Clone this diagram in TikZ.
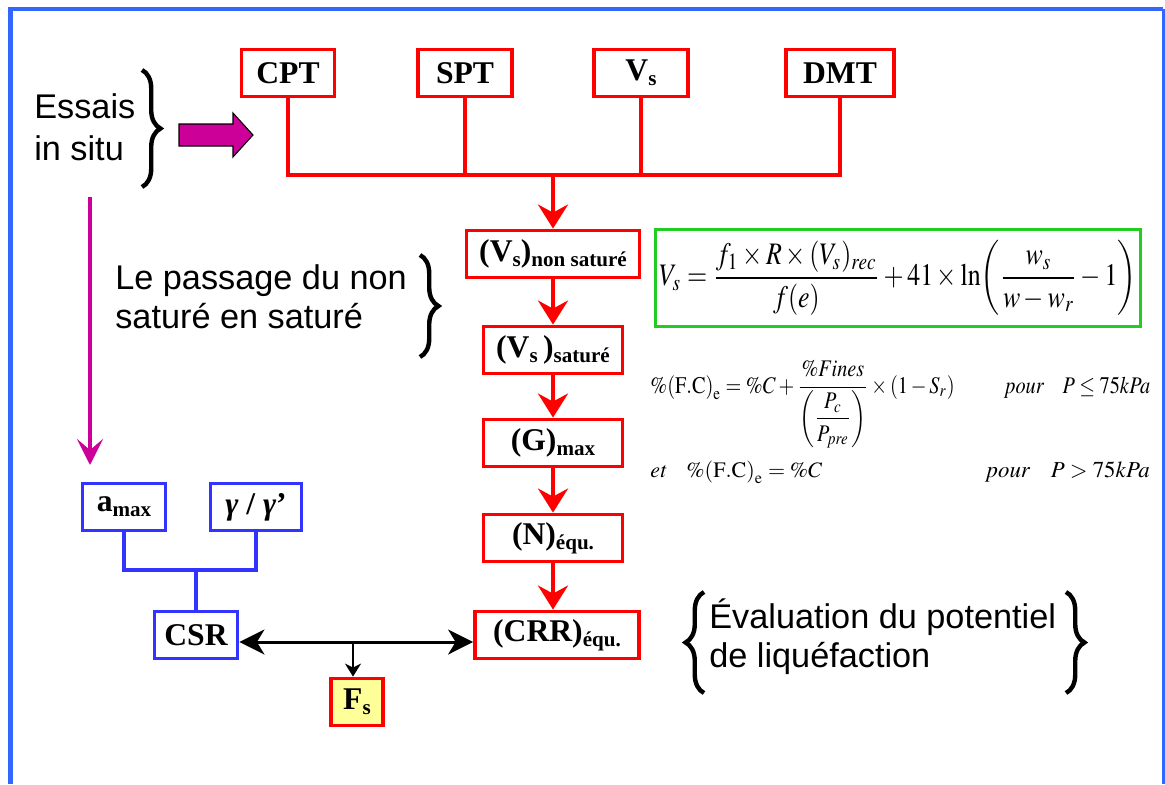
\documentclass[tikz,border=0pt]{standalone}
\usepackage{amsmath}
\usepackage{mathptmx}
\usepackage[no-math]{fontspec}
\setmainfont{Liberation Serif}
\newfontfamily\arialf{Liberation Sans}
\usetikzlibrary{arrows.meta,decorations.pathreplacing}

\definecolor{frameblue}{HTML}{3366FF}
\definecolor{boxblue}{HTML}{3333FF}
\definecolor{fgreen}{HTML}{22CC22}
\definecolor{fmagenta}{HTML}{CC0099}
\definecolor{fsyellow}{HTML}{FFFF99}

% lowered subscript inside the boxes
\newcommand{\lsub}[1]{\raisebox{-0.35ex}{\fontsize{12}{12}\selectfont #1}}

\tikzset{
  redbox/.style={draw=red, line width=2.2pt, minimum height=0.94cm, inner sep=0pt,
    font=\fontsize{18}{20}\selectfont\bfseries},
  bluebox/.style={redbox, draw=boxblue},
  redline/.style={draw=red, line width=2.2pt},
  blueline/.style={draw=boxblue, line width=2.2pt},
  redarrow/.style={redline, -{Stealth[length=0.48cm,width=0.6cm,inset=0.16cm]}},
  blackarrow/.style={line width=1.7pt, {Stealth[length=0.5cm,width=0.5cm,inset=0.15cm]}-{Stealth[length=0.5cm,width=0.5cm,inset=0.15cm]}},
  smallarrow/.style={line width=1.7pt, -{Stealth[length=0.26cm,width=0.32cm,inset=0.08cm]}},
  bracket/.style={line width=2.5pt, decorate, decoration={brace, amplitude=10.5pt}},
  sidetext/.style={font=\arialf\fontsize{19.5}{24}\selectfont, align=left, inner sep=0pt}
}

\begin{document}
\begin{tikzpicture}[x=0.02cm, y=-0.02cm]
  \useasboundingbox (0,0) rectangle (1165,784);

  % Frame
  \draw[frameblue, line width=2.8pt] (10.5,784) -- (10.5,9) -- (1163,9);
  \draw[frameblue, line width=1.2pt] (1163.5,9) -- (1163.5,784);

  % In situ tests
  \node[redbox, minimum width=1.86cm] (cpt) at (288,73) {CPT};
  \node[redbox, minimum width=1.88cm] (spt) at (465,73) {SPT};
  \node[redbox, minimum width=1.88cm] (vs) at (641,73) {V\lsub{s}};
  \node[redbox, minimum width=2.16cm] (dmt) at (840,73) {DMT};

  % Main chain
  \node[redbox, minimum width=3.46cm] (vsns) at (553,254) {(V\lsub{s})\lsub{non saturé}};
  \node[redbox, minimum width=2.78cm] (vssat) at (553,350) {(V\lsub{s}\,)\lsub{saturé}};
  \node[redbox, minimum width=2.78cm] (gmax) at (553,443) {(G)\lsub{max}};
  \node[redbox, minimum width=2.78cm] (nequ) at (553,538) {(N)\lsub{équ.}};
  \node[redbox, minimum width=3.28cm] (crr) at (557,635) {(CRR)\lsub{équ.}};

  % Seismic load side
  \node[bluebox, minimum width=1.66cm] (amax) at (124,507) {a\lsub{max}};
  \node[bluebox, minimum width=1.82cm] (gam) at (256,507) {\textit{γ} / \textit{γ}'};
  \node[bluebox, minimum width=1.66cm] (csr) at (196,635) {CSR};
  \node[redbox, fill=fsyellow, minimum width=1.04cm] (fs) at (357,702) {F\lsub{s}};

  % Connectors
  \coordinate (bus) at (553,175);
  \draw[redline] (cpt.south) |- (bus) -| (dmt.south);
  \draw[redline] (spt.south) -- (spt.south |- bus);
  \draw[redline] (vs.south) -- (vs.south |- bus);
  \draw[redarrow] (bus) -- (vsns.north);
  \draw[redarrow] (vsns) -- (vssat);
  \draw[redarrow] (vssat) -- (gmax);
  \draw[redarrow] (gmax) -- (nequ);
  \draw[redarrow] (nequ.south) -- (nequ.south |- crr.north);

  \coordinate (bbus) at (196,570);
  \draw[blueline] (amax.south) |- (bbus);
  \draw[blueline] (gam.south) |- (bbus);
  \draw[blueline] (bbus) -- (csr.north);

  \coordinate (mid) at (353,642);
  \draw[blackarrow] (csr.east |- mid) -- (crr.west |- mid);
  \draw[smallarrow] (mid) -- (fs.north -| mid);

  \coordinate (mtop) at (90,197);
  \coordinate (mbot) at (90,465);
  \draw[fmagenta, line width=2.6pt, -{Stealth[length=0.52cm,width=0.52cm,inset=0.22cm]}] (mtop) -- (mbot);

  % Texts and braces
  \node[sidetext, anchor=west] (essais) at (34,127) {Essais\\in situ};
  \draw[bracket] (142,70) -- (142,187);
  \draw[fmagenta, fill=fmagenta, draw=black, line width=0.6pt]
    (179,124) -- (233,124) -- (233,113) -- (253,135) -- (233,157) -- (233,146) -- (179,146) -- cycle;

  \node[sidetext, anchor=west, font=\arialf\fontsize{19.5}{22}\selectfont] (passage) at (115,297) {Le passage du non\\saturé en saturé};
  \draw[bracket] (420,255) -- (420,357);

  \node[sidetext, anchor=west, font=\arialf\fontsize{19.5}{22}\selectfont] (evaluation) at (709,637) {Évaluation du potentiel\\de liquéfaction};
  \draw[bracket] (704,693) -- (704,592);
  \draw[bracket] (1066,592) -- (1066,693);

  % Formulas
  \node[draw=fgreen, line width=1.7pt, minimum width=9.7cm, minimum height=1.94cm, inner sep=0pt] (vsform) at (898,278)
    {\resizebox*{9.55cm}{1.5cm}{$V_s=\dfrac{f_1\times R\times (V_s)_{rec}}{f(e)}+41\times\ln\!\left(\dfrac{w_s}{w-w_r}-1\right)$}};
  \node[anchor=base west, inner sep=0pt] (fcform) at (650,393)
    {\resizebox*{10cm}{1.75cm}{$\%\mathrm{(F.C)}_{\mathrm{e}}=\%C+\dfrac{\%Fines}{\left(\dfrac{P_c}{P_{pre}}\right)}\times(1-S_r)\hspace{2.5em}\mathit{pour}\hspace{0.9em}P\leq 75kPa$}};
  \node[anchor=base west, inner sep=0pt] (fcleft) at (650,477)
    {\resizebox{3.44cm}{!}{$\mathit{et}\hspace{0.9em}\%\mathrm{(F.C)}_{\mathrm{e}}=\%C$}};
  \node[anchor=base east, inner sep=0pt] (fcright) at (1150,477)
    {\resizebox{3.26cm}{!}{$\mathit{pour}\hspace{0.9em}P>75kPa$}};
\end{tikzpicture}
\end{document}
